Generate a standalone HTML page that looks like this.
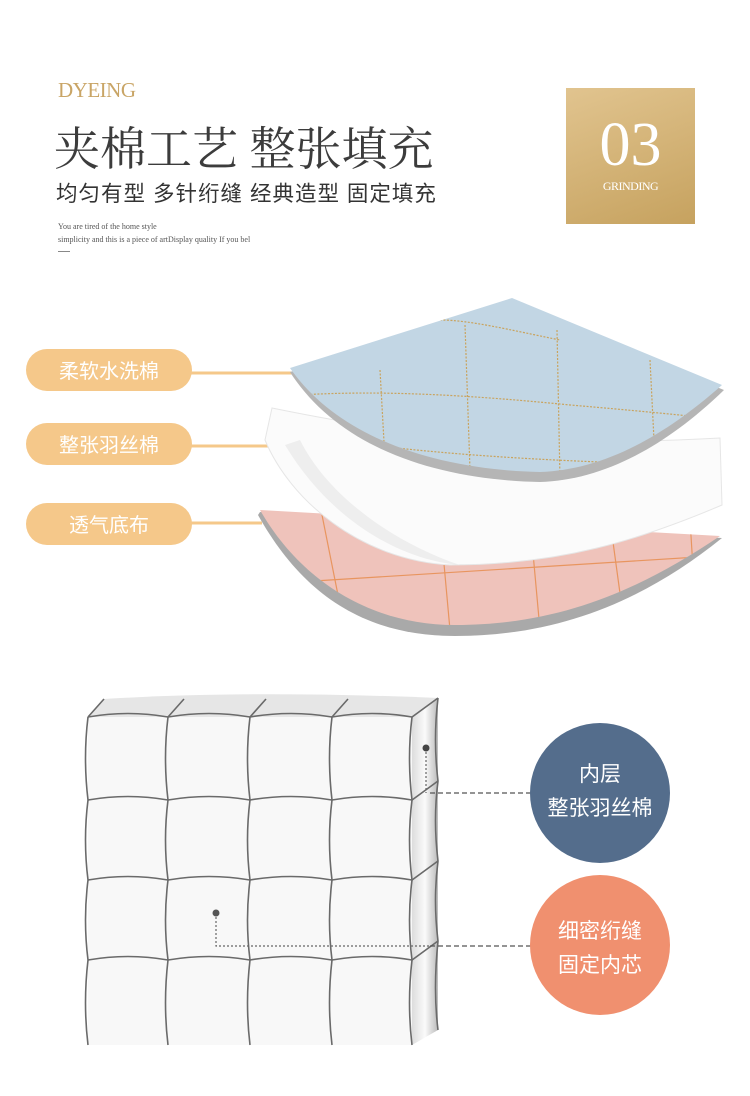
<!DOCTYPE html>
<html><head><meta charset="utf-8"><style>
html,body{margin:0;padding:0;background:#fff;}
body{width:750px;height:1096px;position:relative;overflow:hidden;font-family:"Liberation Sans","Noto Sans CJK SC",sans-serif;}
.a{position:absolute;white-space:nowrap;}
</style></head><body>
<div class="a" style="left:58px;top:78px;font-family:'Liberation Serif',serif;font-size:21px;color:#c9a566;letter-spacing:-0.5px;">DYEING</div>
<div class="a" style="left:54px;top:113px;font-family:'Liberation Serif','Noto Serif CJK SC',serif;font-size:46px;color:#3c3c3c;letter-spacing:0px;">夹棉工艺 整张填充</div>
<div class="a" style="left:56px;top:177px;font-family:'Liberation Sans','Noto Sans CJK SC',sans-serif;font-size:21.5px;color:#333;letter-spacing:1px;">均匀有型 多针绗缝 经典造型 固定填充</div>
<div class="a" style="left:58px;top:220px;font-family:'Liberation Serif',serif;font-size:8px;color:#555;line-height:13px;">You are tired of the home style<br>simplicity and this is a piece of artDisplay quality If you bel</div>
<div class="a" style="left:58px;top:251px;width:12px;height:1px;background:#888;"></div>
<div class="a" style="left:566px;top:88px;width:129px;height:136px;background:linear-gradient(160deg,#e1c48f,#c6a25f);"></div>
<div class="a" style="left:566px;top:110px;width:129px;text-align:center;font-family:'Liberation Serif',serif;font-size:62px;color:#fff;">03</div>
<div class="a" style="left:566px;top:179px;width:129px;text-align:center;font-family:'Liberation Serif',serif;font-size:12px;color:#fff;letter-spacing:-0.5px;">GRINDING</div>

<svg class="a" style="left:0;top:0" width="750" height="1096">
<defs>
<clipPath id="cb"><path d="M290,368 L512,298 L722,385 C660,440 600,470 540,472 C440,470 340,440 290,368 Z"/></clipPath>
<clipPath id="cp"><path d="M260,510 L720,536 C640,590 560,625 455,625 C370,625 300,580 260,510 Z"/></clipPath>
<linearGradient id="gs" x1="0" y1="0" x2="1" y2="0"><stop offset="0" stop-color="#ddd"/><stop offset="0.5" stop-color="#fafafa"/><stop offset="1" stop-color="#bbb"/></linearGradient>
</defs>
<g font-size="20" fill="#fff" font-family="Liberation Sans,Noto Sans CJK SC,sans-serif">
<rect x="26" y="349" width="166" height="42" rx="21" fill="#f5c88a"/>
<text x="109" y="378" text-anchor="middle">柔软水洗棉</text>
<rect x="26" y="423" width="166" height="42" rx="21" fill="#f5c88a"/>
<text x="109" y="452" text-anchor="middle">整张羽丝棉</text>
<rect x="26" y="503" width="166" height="42" rx="21" fill="#f5c88a"/>
<text x="109" y="532" text-anchor="middle">透气底布</text>
</g>
<g stroke="#f5c88a" stroke-width="3"><line x1="190" y1="373" x2="300" y2="373"/><line x1="190" y1="446" x2="292" y2="446"/><line x1="190" y1="523" x2="262" y2="523"/></g>
<path d="M260,512 L722,538 C645,600 560,636 455,636 C360,636 300,590 258,515 Z" fill="#a9a9a9"/>
<path d="M260,510 L720,536 C640,590 560,625 455,625 C370,625 300,580 260,510 Z" fill="#efc3bb"/>
<g clip-path="url(#cp)" stroke="#e8955f" stroke-width="1.2" fill="none">
<path d="M250,585 C400,575 550,565 730,555"/><path d="M320,505 L345,630"/><path d="M440,520 L450,630"/><path d="M530,520 L540,630"/><path d="M610,520 L625,630"/><path d="M690,520 L695,600"/>
</g>
<path d="M272,408 C380,430 500,450 720,438 L722,505 C640,540 560,565 450,565 C360,560 290,500 265,440 Z" fill="#fbfbfb" stroke="#e6e6e6" stroke-width="1"/>
<path d="M285,445 C330,520 400,560 460,565 C400,545 330,500 300,440 Z" fill="#eeeeee"/>
<path d="M290,372 L512,304 L724,390 C662,450 600,480 540,482 C440,480 340,450 290,372 Z" fill="#b5b5b5"/>
<path d="M290,368 L512,298 L722,385 C660,440 600,470 540,472 C440,470 340,440 290,368 Z" fill="#c2d6e4"/>
<g clip-path="url(#cb)" stroke="#c9a35d" stroke-width="1.2" stroke-dasharray="2,1.5" fill="none">
<path d="M440,320 C470,320 510,330 560,340"/><path d="M300,395 C380,390 470,395 570,405 C630,410 680,415 730,420"/>
<path d="M330,440 C420,452 500,458 600,462"/>
<path d="M380,370 L385,460"/><path d="M465,325 L470,470"/><path d="M557,330 L560,480"/><path d="M650,360 L655,460"/>
</g>
<path d="M88,717 L104,699 Q250,690 438,698 L412,717 Z" fill="#e6e6e6"/>
<path d="M412,717 L438,698 L438,1030 L412,1045 Z" fill="url(#gs)"/>
<rect x="88" y="717" width="324" height="328" fill="#f8f8f8"/>
<g stroke="#6a6a6a" stroke-width="1.6" fill="none">
<path d="M88,717 Q128,710 168,717 Q209,710 250,717 Q291,710 332,717 Q372,710 412,717 L438,698"/>
<path d="M88,717 L104,699 M168,717 L184,699 M250,717 L266,699 M332,717 L348,699"/>
<path d="M88,800 Q128,793 168,800 Q209,793 250,800 Q291,793 332,800 Q372,793 412,800 L438,781"/>
<path d="M88,880 Q128,873 168,880 Q209,873 250,880 Q291,873 332,880 Q372,873 412,880 L438,861"/>
<path d="M88,960 Q128,953 168,960 Q209,953 250,960 Q291,953 332,960 Q372,953 412,960 L438,941"/>
<path d="M88,717 Q83,758 88,800 Q83,840 88,880 Q83,920 88,960 Q83,1003 88,1045"/>
<path d="M168,717 Q163,758 168,800 Q163,840 168,880 Q163,920 168,960 Q163,1003 168,1045"/>
<path d="M250,717 Q245,758 250,800 Q245,840 250,880 Q245,920 250,960 Q245,1003 250,1045"/>
<path d="M332,717 Q327,758 332,800 Q327,840 332,880 Q327,920 332,960 Q327,1003 332,1045"/>
<path d="M412,717 Q407,758 412,800 Q407,840 412,880 Q407,920 412,960 Q407,1003 412,1045"/>
<path d="M438,698 Q433,740 438,781 Q433,820 438,861 Q433,900 438,941 Q433,990 438,1030"/>
</g>
<circle cx="426" cy="748" r="3.5" fill="#444"/>
<circle cx="216" cy="913" r="3.5" fill="#555"/>
<g stroke="#666" stroke-width="1.2" stroke-dasharray="2,2" fill="none">
<path d="M426,752 V793"/><path d="M216,917 V946 H430"/>
</g>
<g stroke="#555" stroke-width="1.2" stroke-dasharray="5,3"><path d="M430,793 H532"/><path d="M430,946 H532"/></g>
<circle cx="600" cy="793" r="70" fill="#546d8c"/>
<circle cx="600" cy="945" r="70" fill="#f0906f"/>
<g font-size="21" fill="#fff" text-anchor="middle" font-family="Liberation Sans,Noto Sans CJK SC,sans-serif">
<text x="600" y="781">内层</text><text x="600" y="815">整张羽丝棉</text>
<text x="600" y="938">细密绗缝</text><text x="600" y="972">固定内芯</text>
</g>
</svg>
</body></html>
